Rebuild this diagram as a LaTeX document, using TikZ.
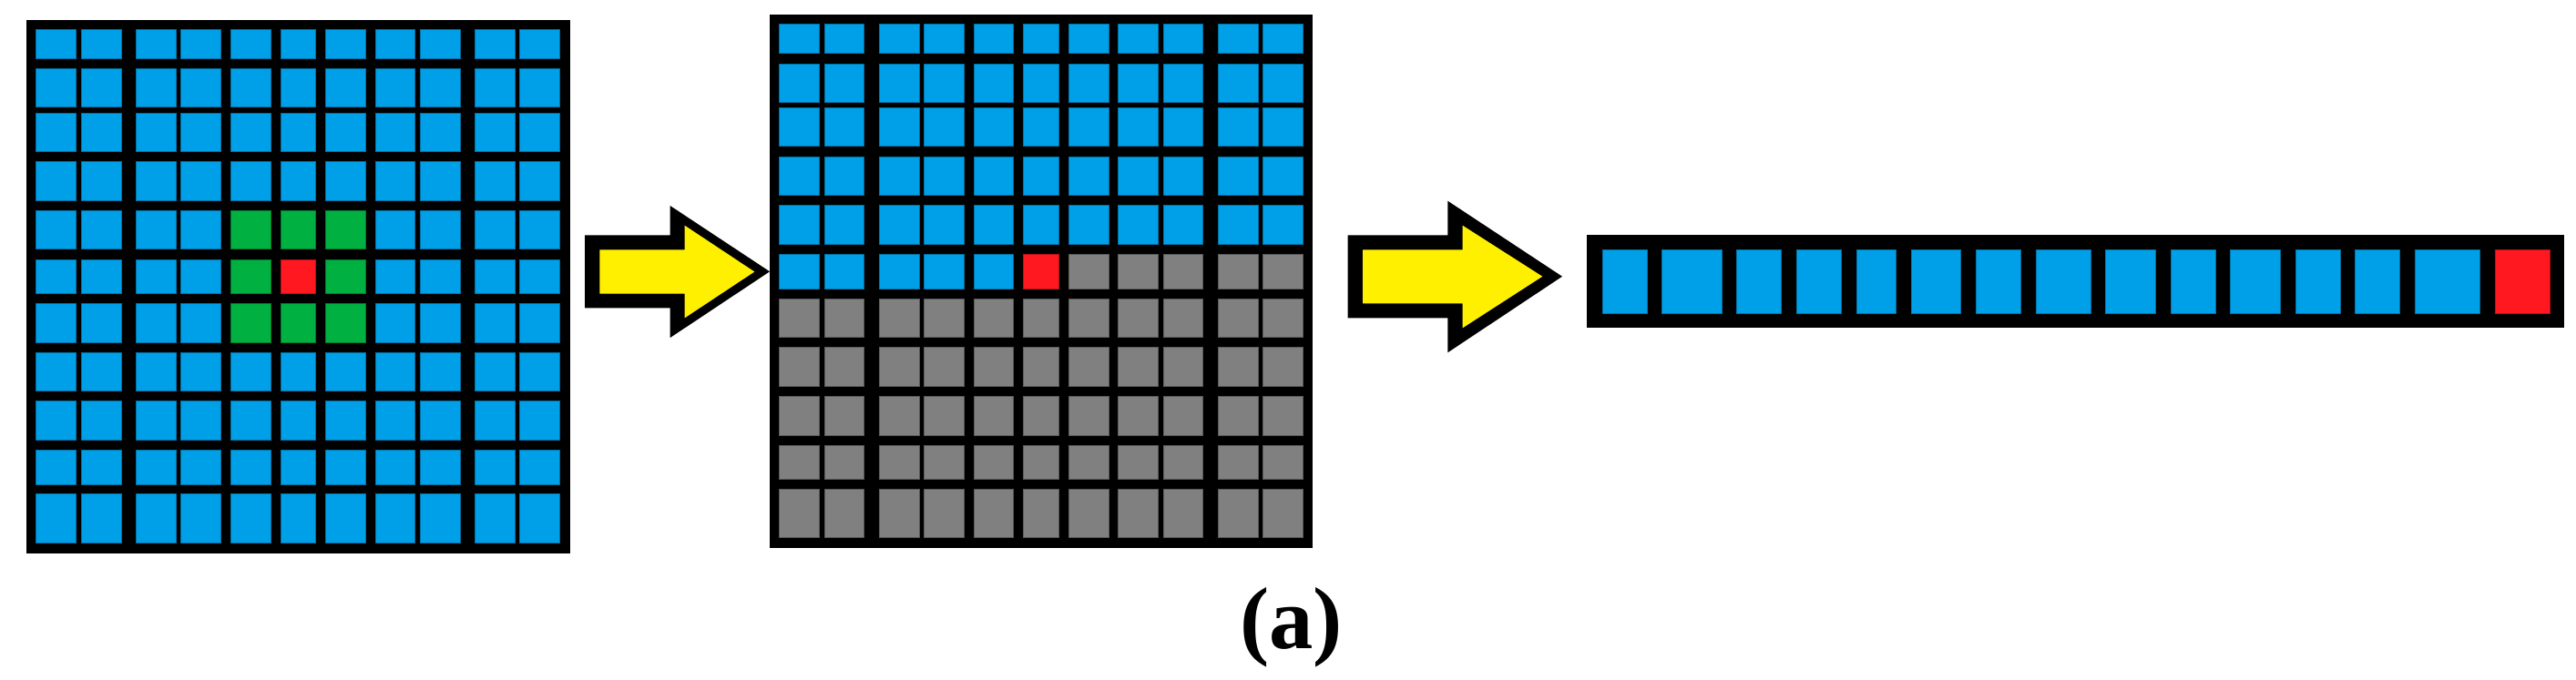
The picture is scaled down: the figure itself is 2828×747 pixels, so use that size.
\documentclass[tikz,border=0pt]{standalone}
\usepackage{fontspec}
\setmainfont{Liberation Serif}
\definecolor{cblue}{RGB}{0,160,233}
\definecolor{cgreen}{RGB}{0,176,64}
\definecolor{cred}{RGB}{255,24,32}
\definecolor{cgray}{RGB}{128,128,128}
\definecolor{cyellow}{RGB}{255,240,0}
\tikzset{
  cellbox/.style={line width=0.1mm, draw=#1!70!black, fill=#1},
  frame/.style={fill=black},
  arrowout/.style={fill=black},
  arrowin/.style={fill=cyellow},
  label/.style={font=\fontsize{27.5}{30}\selectfont\bfseries, anchor=base, inner sep=0pt}
}
\newcommand\pickA[2]{%
  \def\cc{cblue}%
  \ifnum#1>4 \ifnum#1<8 \ifnum#2>4 \ifnum#2<8 \def\cc{cgreen}\fi\fi\fi\fi
  \ifnum#1=6 \ifnum#2=6 \def\cc{cred}\fi\fi}
\newcommand\pickB[2]{%
  \def\cc{cgray}%
  \ifnum#2<6 \def\cc{cblue}\fi
  \ifnum#2=6 \ifnum#1<6 \def\cc{cblue}\fi\ifnum#1=6 \def\cc{cred}\fi\fi}
\newcommand\drawgrid[4]{% name, ox, oy, picker
  \begin{scope}[shift={(#2,#3)}]
    \fill[frame] (0,0) rectangle (596.5,586);
    \coordinate (#1-nw) at (0,0);
    \coordinate (#1-se) at (596.5,586);
    \foreach \xa/\xb [count=\i] in {10.9/54.7,60.2/104.0,120.4/164.2,169.6/213.4,224.3/268.1,279.1/317.4,328.4/372.2,383.1/426.9,432.3/476.1,492.5/536.3,541.8/585.6}{
      \foreach \ya/\yb [count=\j] in {10.7/42.7,53.8/96.1,102.4/144.7,156.2/198.5,209.6/251.9,263.3/300.9,312.0/354.3,365.4/408.1,419.1/461.8,472.9/510.5,521.1/574.5}{
        #4{\i}{\j}%
        \draw[cellbox=\cc] (\xa,\ya) rectangle (\xb,\yb);
      }}
  \end{scope}}
\begin{document}
\begin{tikzpicture}[x=0.1mm,y=-0.1mm]
\useasboundingbox (0,0) rectangle (2828,747);
% grids
\drawgrid{g1}{29}{21.7}{\pickA}
\drawgrid{g2}{844.8}{16.2}{\pickB}
% arrow 1
\fill[arrowout] (642,258.3)--(735.7,258.3)--(735.7,226)--(845,298.3)--(735.7,371)--(735.7,338.3)--(642,338.3)--cycle;
\fill[arrowin] (658.3,274.3)--(751.7,274.3)--(751.7,247.7)--(828.3,298.5)--(751.7,349.3)--(751.7,322.7)--(658.3,322.7)--cycle;
% arrow 2
\fill[arrowout] (1479.7,258.3)--(1589.3,258.3)--(1589.3,220.7)--(1715,303.7)--(1589.3,387.3)--(1589.3,349.3)--(1479.7,349.3)--cycle;
\fill[arrowin] (1496,274.3)--(1605.7,274.3)--(1605.7,247.7)--(1693.3,303.7)--(1605.7,360.3)--(1605.7,333.3)--(1496,333.3)--cycle;
% vector
\fill[frame] (1742.3,258.3) rectangle (2815.3,360.3);
\foreach \xa/\xb [count=\k] in {1759/1808,1824.7/1890,1906.7/1955.7,1972.3/2021.3,2038.3/2081.7,2098.3/2152.7,2169.3/2218.7,2235.3/2295.3,2311.7/2366.3,2383/2432,2448.7/2503.3,2520/2569,2585.3/2634.7,2651/2722.3}{
  \draw[cellbox=cblue] (\xa,274.3) rectangle (\xb,344);
}
\draw[cellbox=cred] (2739,274.3) rectangle (2799,344);
% label
\node[label] (lab) at (1417.5,712) {(a)};
\end{tikzpicture}
\end{document}
